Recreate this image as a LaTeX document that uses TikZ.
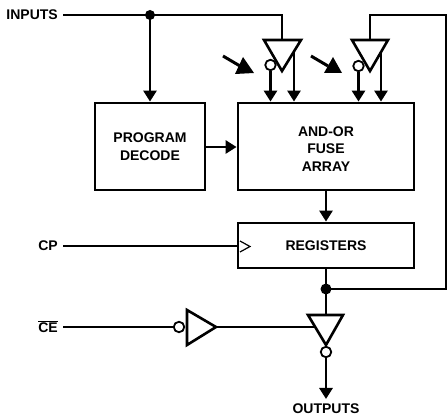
\documentclass[tikz,border=0pt]{standalone}
\usepackage{fontspec}
\setmainfont{Liberation Sans}
\usetikzlibrary{arrows.meta,calc}
\tikzset{
  x=1pt,y=-1pt,
  wire/.style={line width=2.8pt,line cap=butt},
  arrowwire/.style={wire,-{Triangle[length=11pt,width=13pt]}},
  blockbox/.style={draw,line width=2.8pt,inner sep=0pt,align=center,font=\bfseries\fontsize{14}{17.5}\selectfont},
  gate/.style={draw,line width=2.6pt,fill=white,line join=miter},
  bubble/.style={circle,draw,line width=1.8pt,fill=white,minimum size=10.5pt,inner sep=0pt},
  dot/.style={circle,fill=black,minimum size=11pt,inner sep=0pt},
  lbl/.style={font=\bfseries\fontsize{14}{17}\selectfont,inner sep=0pt},
}
\begin{document}
\begin{tikzpicture}
\useasboundingbox (0,0) rectangle (448,417);
% blocks
\node[blockbox,minimum width=110pt,minimum height=87pt] (decode) at (150,146.5) {PROGRAM\\DECODE};
\node[blockbox,minimum width=176pt,minimum height=87pt] (array) at (326,146.5) {\rule{0pt}{15pt}AND-OR\\FUSE\\ARRAY};
\node[blockbox,minimum width=176pt,minimum height=45pt] (reg) at (326,245.5) {REGISTERS};
% labels
\node[lbl,anchor=east] (inputs) at (58,15) {INPUTS};
\node[lbl,anchor=east] (cp) at (58,246) {CP};
\node[lbl,anchor=east] (ce) at (58,327) {$\overline{\mbox{CE}}$};
\node[lbl] (outputs) at (326,408.5) {OUTPUTS};
% reference points
\coordinate (inS) at (63,15);
\coordinate (cpS) at (63,246);
\coordinate (ceS) at (63,327);
\coordinate (jIn) at (150,15);
\coordinate (g1top) at (282,40);
\coordinate (g2top) at (370,40);
\coordinate (fbC1) at (370,15);
\coordinate (fbC2) at (446,15);
\coordinate (fbC3) at (446,289);
\coordinate (g3top) at (326,315);
\coordinate (g1r) at (294,50);
\coordinate (g2r) at (381,50);
\coordinate (g4out) at (216,327);
\coordinate (g3l) at (315,327);
\coordinate (outTip) at (326,399);
% wires behind gates
\draw[wire] (inS) -- (jIn) -- (jIn -| g1top) -- (g1top);
\draw[wire] (g2top) -- (fbC1) -- (fbC2) -- (fbC3) -- (326,289);
\draw[arrowwire] (jIn) -- (jIn |- decode.north);
\draw[arrowwire] (decode.east |- 0,147) -- (array.west |- 0,147);
\draw[arrowwire] (array.south) -- (reg.north);
\draw[wire] (reg.south) -- (g3top);
\draw[wire] (cpS) -- (reg.west |- cpS);
\draw[wire] (ceS) -- (175,327);
\draw[wire] (g4out) -- (g3l);
\draw[arrowwire] (g1r) -- (g1r |- array.north);
\draw[arrowwire] (g2r) -- (g2r |- array.north);
% gates
\draw[gate] (264,40) -- (301,40) -- (282,71) -- cycle;
\draw[gate] (352,40) -- (388,40) -- (370,71) -- cycle;
\draw[gate] (308,315) -- (343,315) -- (326,345) -- cycle;
\draw[gate] (187,310) -- (216,327) -- (187,345) -- cycle;
\draw[line width=1.2pt,fill=white] (240,241) -- (250,246.5) -- (240,252);
% bubbles and arrows from them
\node[bubble] (b1) at (270.5,65) {};
\node[bubble] (b2) at (358.5,66) {};
\node[bubble] (b3) at (326,352) {};
\node[bubble] (b4) at (179,327) {};
\draw[arrowwire] (b1) -- (b1 |- array.north);
\draw[arrowwire] (b2) -- (b2 |- array.north);
\draw[arrowwire] (b3) -- (outTip);
\node[dot] (jOut) at (326,289) {};
\fill (jIn) circle (5pt);
% programming arrows
\draw[line width=3pt] (223,56) -- (240,66);
\fill (243,57) -- (254,73) -- (235,74) -- cycle;
\draw[line width=3pt] (311,56) -- (328,66);
\fill (333,57) -- (342,73) -- (324,73) -- cycle;
\end{tikzpicture}
\end{document}
